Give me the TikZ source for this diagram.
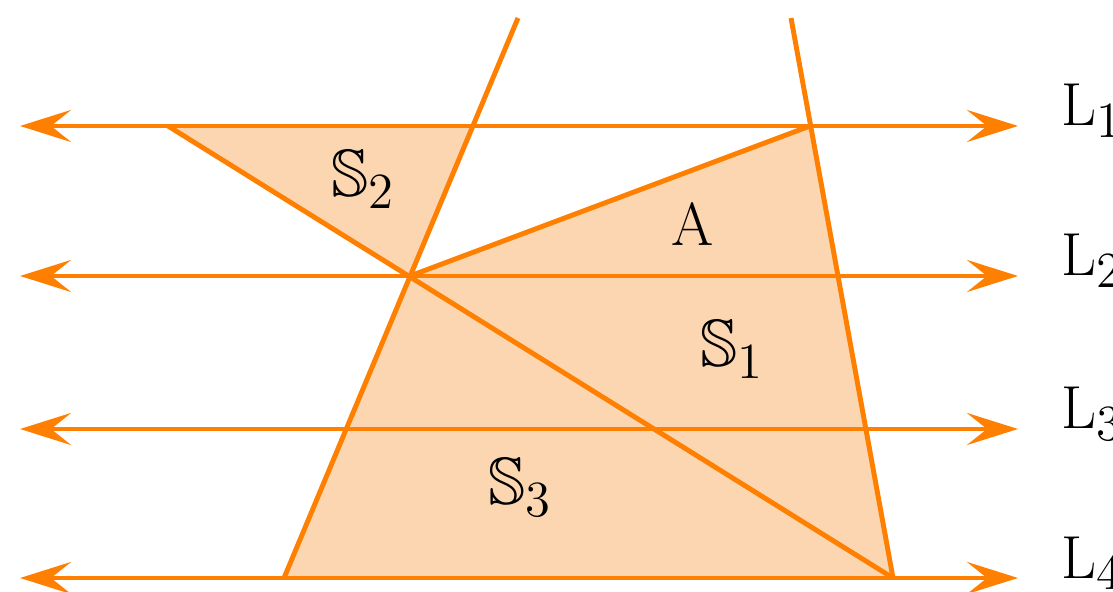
\documentclass[tikz,border=0pt]{standalone}
\usepackage{amssymb}
\usepackage{tikz}
\usetikzlibrary{arrows.meta}
\definecolor{TrOrange}{HTML}{FF8000}
\definecolor{TrFill}{HTML}{FCD6B0}
\tikzset{
  parline/.style={TrOrange,line width=1.4pt,{Stealth[length=5.1mm,width=3.2mm,inset=2mm]}-{Stealth[length=5.1mm,width=3.2mm,inset=2mm]}},
  cutline/.style={TrOrange,line width=1.4pt},
  lbl/.style={inner sep=0pt,anchor=base west,font=\fontsize{19}{22}\selectfont}
}
\begin{document}
\begin{tikzpicture}[x=0.01cm,y=-0.01cm]
\path[use as bounding box] (0,0) rectangle (1113,592);
% points of the figure
\coordinate (U) at (168,126);
\coordinate (V) at (473,126);
\coordinate (Q) at (810,126);
\coordinate (P) at (410,276);
\coordinate (T) at (284,578);
\coordinate (R) at (893,578);
\coordinate (Ltop) at (518,18);
\coordinate (Rtop) at (791,18);
% shaded parts
\fill[TrFill] (U) -- (V) -- (P) -- cycle;
\fill[TrFill] (P) -- (Q) -- (R) -- (T) -- cycle;
% parallel lines
\draw[parline] (20,126) -- (1018,126);
\draw[parline] (20,276) -- (1018,276);
\draw[parline] (20,429) -- (1018,429);
\draw[parline] (20,578) -- (1018,578);
% transversals
\draw[cutline] (Ltop) -- (T);
\draw[cutline] (Rtop) -- (R);
\draw[cutline] (U) -- (R);
\draw[cutline] (P) -- (Q);
% labels
\node[lbl] (l1) at (1061,126) {$\mathrm{L}_1$};
\node[lbl] (l2) at (1061,276) {$\mathrm{L}_2$};
\node[lbl] (l3) at (1061,429) {$\mathrm{L}_3$};
\node[lbl] (l4) at (1061,578) {$\mathrm{L}_4$};
\node[lbl] (s2) at (331,197) {$\mathbb{S}_2$};
\node[lbl] (a) at (671,246) {$\mathrm{A}$};
\node[lbl] (s1) at (700,367) {$\mathbb{S}_1$};
\node[lbl] (s3) at (488,505) {$\mathbb{S}_3$};
\end{tikzpicture}
\end{document}
